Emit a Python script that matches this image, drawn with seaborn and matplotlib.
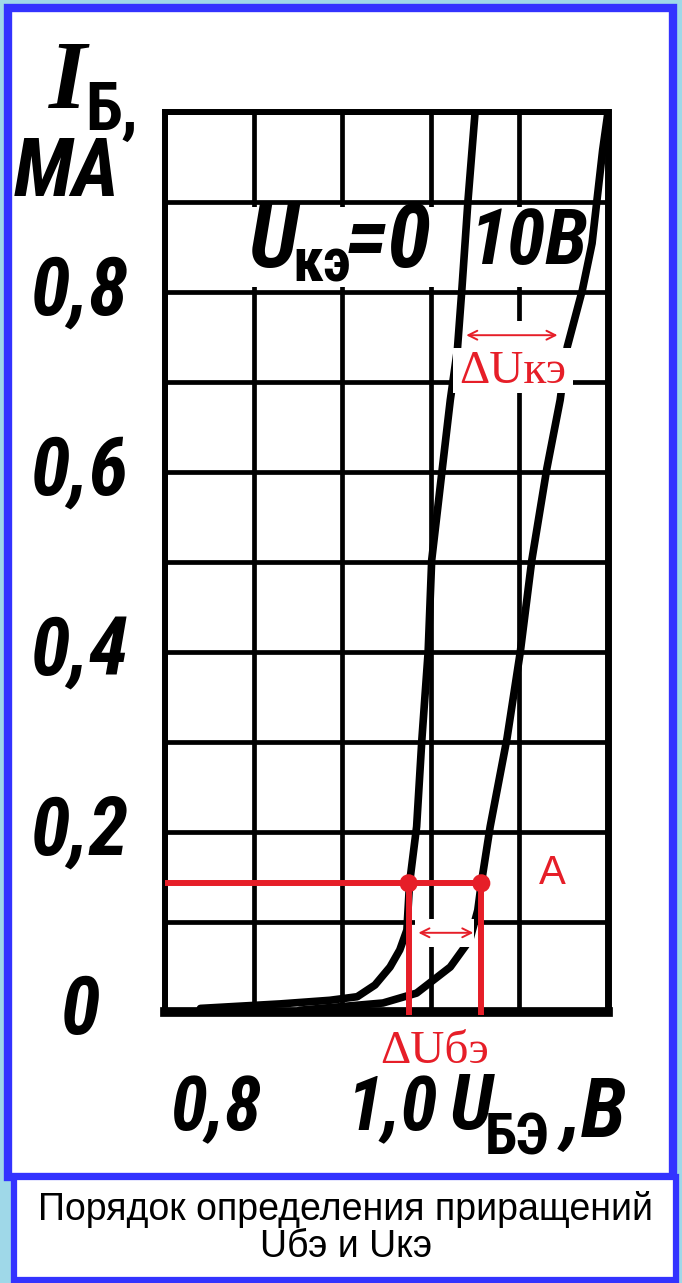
import numpy as np
import pandas as pd
import matplotlib
matplotlib.use('Agg')
import matplotlib.pyplot as plt
import seaborn as sns
from matplotlib.patches import Rectangle
from matplotlib.transforms import ScaledTranslation

# --- data ---
# input characteristic for U_кэ = 0
u_kz0 = [0.740, 0.830, 0.886, 0.917, 0.937, 0.954, 0.965, 0.973, 0.976, 0.984, 0.990,
         0.997, 1.001, 1.013, 1.022, 1.030, 1.035, 1.042, 1.050]
i_kz0 = [0.004, 0.009, 0.013, 0.017, 0.030, 0.050, 0.069, 0.091, 0.143, 0.206, 0.304,
         0.400, 0.502, 0.604, 0.680, 0.736, 0.802, 0.902, 1.000]
# input characteristic for U_кэ = 10 В
u_kz10 = [0.852, 0.946, 0.984, 1.022, 1.044, 1.053, 1.057, 1.067, 1.086, 1.101, 1.114,
          1.131, 1.146, 1.154, 1.171, 1.182, 1.194, 1.200]
i_kz10 = [0.002, 0.010, 0.021, 0.050, 0.080, 0.113, 0.143, 0.206, 0.304, 0.400, 0.502,
          0.604, 0.680, 0.739, 0.802, 0.854, 0.958, 1.000]

# working point A and the two increments
i_a = 0.143
u_a = [0.975, 1.057]
i_dukz = 0.752
u_dukz = [1.040, 1.143]
i_dube = 0.088
u_dube = [0.986, 1.048]

x_grid = [0.7, 0.8, 0.9, 1.0, 1.1, 1.2]
x_text = ['', '0,8', '', '1,0', '', '']
y_grid = [0.0, 0.1, 0.2, 0.3, 0.4, 0.5, 0.6, 0.7, 0.8, 0.9, 1.0]
y_text = ['0', '', '0,2', '', '0,4', '', '0,6', '', '0,8', '', '']

W, H = 682, 1283
RED = '#e61e28'
BLUE = '#3333ff'
NARROW = ['Roboto Condensed', 'Noto Sans', 'DejaVu Sans']
HAND = dict(family=NARROW, style='italic', weight='bold', stretch='condensed', color='black')
HAND_UP = dict(family=NARROW, weight='bold', stretch='condensed', color='black')
SERIF = dict(family=['Liberation Serif', 'DejaVu Serif'])

sns.set_style('white')
plt.rcParams['font.family'] = ['Liberation Sans', 'DejaVu Sans']
plt.rcParams['text.color'] = 'black'


def fx(x):
    return x / W


def fy(y):
    return 1 - y / H


fig = plt.figure(figsize=(W / 100, H / 100), dpi=100, facecolor='#9fd8e8')

# frames: main panel and caption box
fig.add_artist(Rectangle((fx(8), fy(1177)), fx(673) - fx(8), fy(8) - fy(1177),
                         transform=fig.transFigure, fc='white', ec=BLUE, lw=6, zorder=-2))
fig.add_artist(Rectangle((fx(14.5), fy(1279.5)), fx(676) - fx(14.5), fy(1177) - fy(1279.5),
                         transform=fig.transFigure, fc='white', ec=BLUE, lw=4.5, zorder=-1))

ax = fig.add_axes([fx(165), fy(1012), (608 - 165) / W, 900 / H])
ax.set_facecolor('none')

df = pd.DataFrame({
    'U': u_kz0 + u_kz10,
    'I': i_kz0 + i_kz10,
    'curve': ['0'] * len(u_kz0) + ['10'] * len(u_kz10),
})
sns.lineplot(data=df, x='U', y='I', units='curve', estimator=None, sort=False,
             color='black', lw=5.5, ax=ax, zorder=3)
for ln in ax.lines:
    ln.set_solid_capstyle('round')
    ln.set_solid_joinstyle('round')

ax.set_xlim(0.7, 1.2)
ax.set_ylim(0, 1.0)
ax.set_xticks(x_grid)
ax.set_xticklabels(x_text)
ax.set_yticks(y_grid)
ax.set_yticklabels(y_text)
ax.set_xlabel('')
ax.set_ylabel('')
ax.grid(True, color='black', lw=3.4)
ax.set_axisbelow(True)
ax.tick_params(length=0)
ax.tick_params(axis='y', pad=61)
ax.tick_params(axis='x', pad=44)
for t in ax.get_yticklabels():
    t.set(ha='center', va='center', size=58, **HAND)
for t in ax.get_xticklabels():
    t.set(size=54, **HAND)
    t.set_transform(t.get_transform() + ScaledTranslation(-0.38, 0, fig.dpi_scale_trans))
for side, lw in [('left', 4.3), ('top', 4.3), ('right', 5), ('bottom', 7)]:
    ax.spines[side].set_visible(True)
    ax.spines[side].set_color('black')
    ax.spines[side].set_linewidth(lw)

# white row behind the curve labels
ax.add_patch(Rectangle((0.705, 0.806), 0.465, 0.088, fc='white', ec='none', zorder=1.5))
lab = dict(transform=fig.transFigure, ha='center', va='center', zorder=1.6)
ax.text(fx(273), fy(243), 'U', size=64, **HAND, **lab)
ax.text(fx(322), fy(265), 'кэ', size=44, **HAND_UP, **lab)
ax.text(fx(388), fy(243), '=0', size=64, **HAND, **lab)
ax.text(fx(529), fy(243), '10В', size=56, **HAND, **lab)

# point A construction
ax.plot([0.7, u_a[1]], [i_a, i_a], color=RED, lw=4.3, zorder=4, solid_capstyle='butt')
for u in u_a:
    ax.plot([u, u], [i_a, -0.003], color=RED, lw=4.3, zorder=4, clip_on=False,
            solid_capstyle='butt')
sns.scatterplot(x=u_a, y=[i_a] * len(u_a), color=RED, s=170, edgecolor='none',
                zorder=5, ax=ax, legend=False)
ax.text(1.137, 0.154, 'A', color=RED, size=29, ha='center', va='center', zorder=6)

# increments
ax.add_patch(Rectangle((u_dube[0] - 0.004, i_dube - 0.016), 0.067, 0.031,
                       fc='white', ec='none', zorder=5))
ax.annotate('', xy=(u_dube[0], i_dube), xytext=(u_dube[1], i_dube),
            arrowprops=dict(arrowstyle='<->', color=RED, lw=1.4, mutation_scale=16,
                            shrinkA=0, shrinkB=0), zorder=6)
ax.text(1.004, -0.044, 'ΔUбэ', color=RED, size=34, ha='center', va='center',
        zorder=6, **SERIF)

ax.add_patch(Rectangle((1.04, 0.737), 0.103, 0.031, fc='white', ec='none', zorder=5))
ax.add_patch(Rectangle((1.025, 0.688), 0.136, 0.05, fc='white', ec='none', zorder=5))
ax.annotate('', xy=(u_dukz[0], i_dukz), xytext=(u_dukz[1], i_dukz),
            arrowprops=dict(arrowstyle='<->', color=RED, lw=1.4, mutation_scale=16,
                            shrinkA=0, shrinkB=0), zorder=6)
ax.text(1.093, 0.711, 'ΔUкэ', color=RED, size=34, ha='center', va='center',
        zorder=6, **SERIF)

# axis titles
fig.text(fx(68), fy(84), 'I', size=70, ha='center', va='center', style='italic',
         weight='bold', color='black', **SERIF)
fig.text(fx(112), fy(112), 'Б,', size=48, ha='center', va='center', **HAND_UP)
fig.text(fx(67), fy(174), 'МА', size=58, ha='center', va='center', **HAND)
fig.text(fx(471), fy(1108), 'U', size=56, ha='center', va='center', **HAND)
fig.text(fx(517), fy(1139), 'БЭ', size=42, ha='center', va='center', **HAND_UP)
fig.text(fx(594), fy(1114), ',В', size=60, ha='center', va='center', **HAND)

# caption
fig.text(fx(346), fy(1209), 'Порядок определения приращений', size=27,
         ha='center', va='center')
fig.text(fx(346), fy(1247), 'Uбэ и Uкэ', size=27, ha='center', va='center')

fig.savefig('out.png', dpi=100, facecolor=fig.get_facecolor())
